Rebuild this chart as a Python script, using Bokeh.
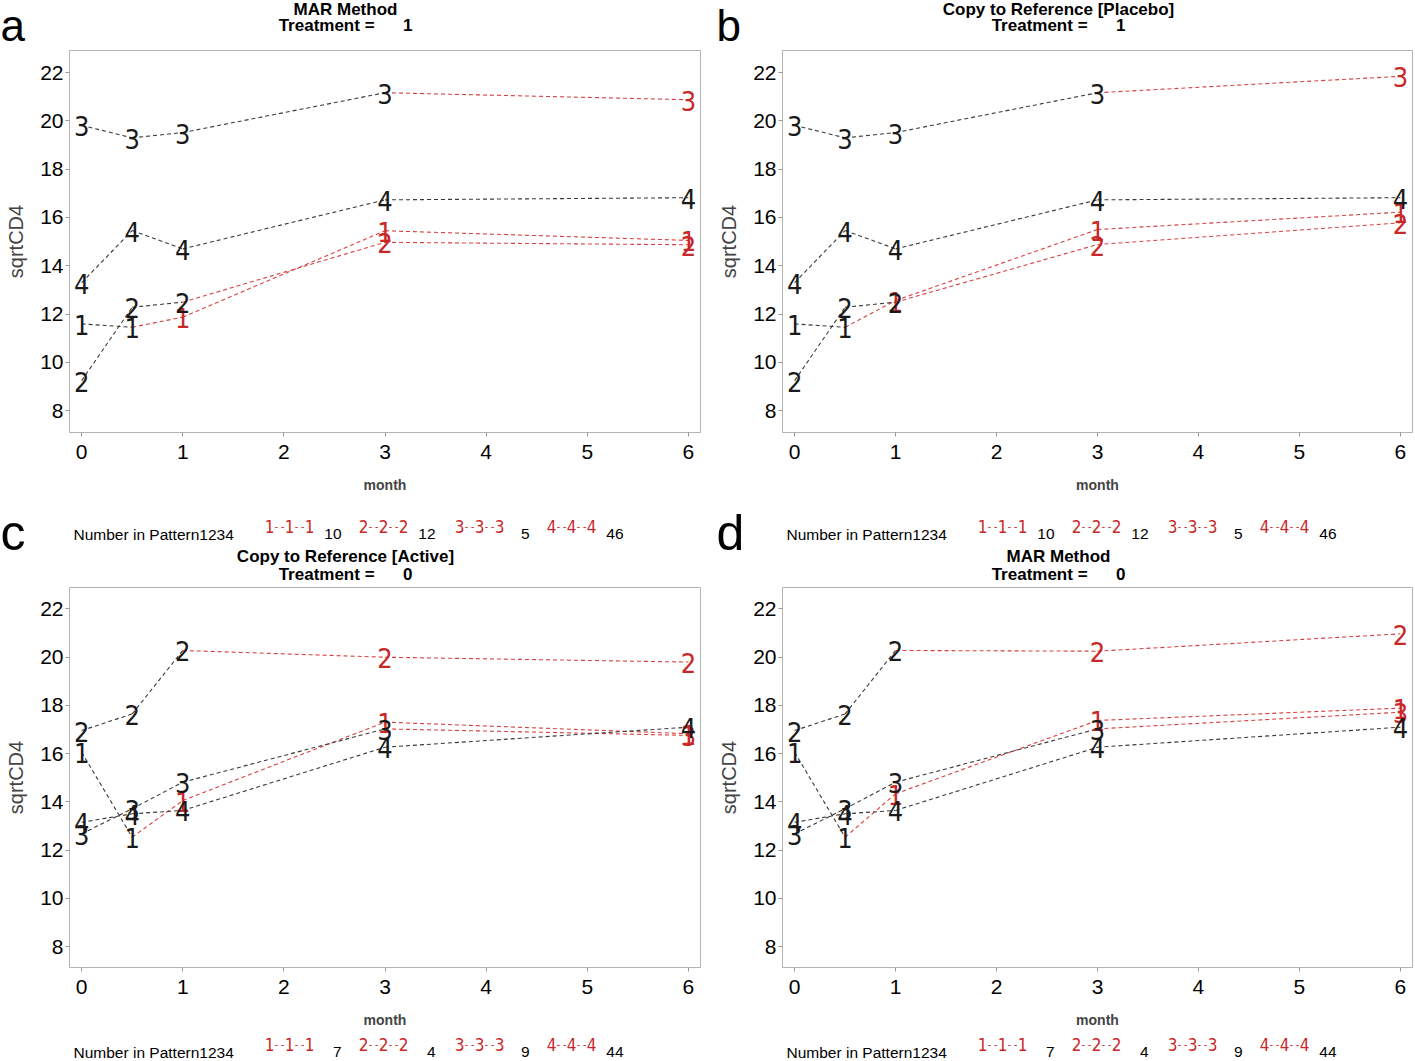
from bokeh.plotting import figure
from bokeh.layouts import row, column
from bokeh.models import Range1d, Label, FixedTicker
from bokeh.core.properties import value
from bokeh.embed import file_html
from bokeh.resources import INLINE

# ---------------- data ----------------
months = [0, 0.5, 1, 3, 6]
patterns = ["1", "2", "3", "4"]
n_observed = [2, 3, 4, 5]          # visits observed (black) per dropout pattern; rest imputed (red)
x_ticks = [0, 1, 2, 3, 4, 5, 6]
y_ticks = [8, 10, 12, 14, 16, 18, 20, 22]

# a: MAR Method, Treatment = 1
a_p1 = [11.59, 11.45, 11.87, 15.45, 15.05]
a_p2 = [9.24, 12.28, 12.49, 14.97, 14.87]
a_p3 = [19.82, 19.30, 19.52, 21.17, 20.88]
a_p4 = [13.30, 15.46, 14.70, 16.73, 16.82]
# b: Copy to Reference [Placebo], Treatment = 1
b_p1 = [11.59, 11.45, 12.56, 15.50, 16.22]
b_p2 = [9.24, 12.28, 12.49, 14.88, 15.78]
b_p3 = [19.82, 19.30, 19.52, 21.17, 21.85]
b_p4 = [13.30, 15.46, 14.70, 16.73, 16.82]
# c: Copy to Reference [Active], Treatment = 0
c_p1 = [16.06, 12.54, 14.06, 17.31, 16.83]
c_p2 = [16.96, 17.65, 20.28, 20.00, 19.80]
c_p3 = [12.68, 13.72, 14.82, 17.03, 16.76]
c_p4 = [13.16, 13.51, 13.65, 16.27, 17.10]
# d: MAR Method, Treatment = 0
d_p1 = [16.06, 12.54, 14.34, 17.38, 17.89]
d_p2 = [16.96, 17.65, 20.28, 20.25, 20.97]
d_p3 = [12.68, 13.72, 14.82, 17.03, 17.72]
d_p4 = [13.16, 13.51, 13.65, 16.27, 17.10]

counts_trt1 = [10, 12, 5, 46]
counts_trt0 = [7, 4, 9, 44]

# ---------------- style ----------------
OBS_LINE = "#3a3a3a"
IMP_LINE = "#d84040"
OBS_TXT = "#1a1a1a"
IMP_TXT = "#c82828"
GLYPH_FONT = "'Liberation Sans Narrow', 'DejaVu Sans Condensed', 'Roboto Condensed', 'Liberation Sans'"
FONT = "Liberation Sans"
FRAME = "#b4b4b4"

COL_W = [707, 706]          # column widths
COL_X = [0, 707]            # column left edge on the page
FRAME_L = [69, 75]          # frame left inside each column
FRAME_W = [631, 630]
ROW_FH = [382, 380]         # frame heights (top row, bottom row)
Y_RANGES = [(7.09, 22.92), (7.14, 22.89)]
TOTAL_W = sum(COL_W)
HEAD_H, MID_H, FOOT_H = 50, 89, 30
MAIN_TOP_B = [0, 2]
MAIN_BOT_B = 64


def aux_fig(h):
    p = figure(width=TOTAL_W, height=h, x_range=Range1d(0, TOTAL_W),
               y_range=Range1d(h, 0),
               min_border=0, min_border_left=0, min_border_right=0,
               min_border_top=0, min_border_bottom=0,
               x_axis_location=None, y_axis_location=None,
               output_backend="svg", toolbar_location=None, tools="")
    p.grid.visible = False
    p.outline_line_color = None
    p.background_fill_color = "white"
    p.border_fill_color = "white"
    return p


def lab(p, x, base, text, size, color="black", style="normal", align="left",
        font=FONT):
    """place text so that its alphabetic baseline sits at `base` (pixels from top)"""
    y = base - 0.35 * size
    p.add_layout(Label(x=x, y=y, text=text, text_font=font,
                       text_font_size=f"{size}px", text_color=color,
                       text_font_style=style, text_align=align,
                       text_baseline="middle"))


def add_titles(p, col, title, trt, b1, b2):
    cx = COL_X[col] + FRAME_L[col] + 276
    lab(p, cx, b1, title, 17, style="bold", align="center")
    lab(p, cx, b2, "Treatment =" + "\u00a0" * 6 + str(trt), 17,
        style="bold", align="center")


def add_letter(p, col, letter, base, size):
    lab(p, COL_X[col] + [0, 9][col], base, letter, size)


def add_legend(p, col, counts, base):
    fl = COL_X[col] + FRAME_L[col]
    lab(p, fl + 4, base, "Number in Pattern1234", 15.5)
    starts = [200, 294, 390, 482]
    cnt_right = [272, 366, 460, 554]
    for k in range(4):
        for j in range(3):
            lab(p, fl + starts[k] + 20 * j, base - 7, patterns[k], 17,
                color=IMP_TXT, align="center", font=GLYPH_FONT)
        for j in range(2):
            lab(p, fl + starts[k] + 10 + 20 * j, base - 10, "- -", 10,
                color=IMP_TXT, align="center")
        lab(p, fl + cnt_right[k], base, str(counts[k]), 15.5, align="right")


def main_fig(col, rw, series):
    p = figure(frame_width=FRAME_W[col], frame_height=ROW_FH[rw],
               min_border_left=FRAME_L[col],
               min_border_right=COL_W[col] - FRAME_L[col] - FRAME_W[col],
               min_border_top=MAIN_TOP_B[rw], min_border_bottom=MAIN_BOT_B,
               x_range=Range1d(-0.12, 6.12), y_range=Range1d(*Y_RANGES[rw]),
               output_backend="svg", toolbar_location=None, tools="")
    p.grid.visible = False
    p.outline_line_color = FRAME
    p.background_fill_color = "white"
    p.border_fill_color = "white"
    p.xaxis.ticker = FixedTicker(ticks=x_ticks)
    p.yaxis.ticker = FixedTicker(ticks=y_ticks)
    for ax in (p.xaxis[0], p.yaxis[0]):
        ax.major_label_text_font = FONT
        ax.major_label_text_font_size = "21px"
        ax.major_label_text_color = "black"
        ax.major_tick_out = 4
        ax.major_tick_in = 0
        ax.minor_tick_out = 0
        ax.minor_tick_in = 0
        ax.major_tick_line_color = "#9a9a9a"
        ax.axis_line_color = FRAME
    p.xaxis.major_label_standoff = 8
    p.yaxis.major_label_standoff = 2
    p.xaxis.axis_label = "month"
    p.xaxis.axis_label_text_font = FONT
    p.xaxis.axis_label_text_font_size = "14px"
    p.xaxis.axis_label_text_font_style = "bold"
    p.xaxis.axis_label_standoff = 15
    p.yaxis.axis_label = "sqrtCD4"
    p.yaxis.axis_label_text_font = FONT
    p.yaxis.axis_label_text_font_size = "20px"
    p.yaxis.axis_label_text_font_style = "normal"
    p.yaxis.axis_label_standoff = 10

    for k, vals in enumerate(series):
        nobs = n_observed[k]
        x0, y0, x1, y1, cols = [], [], [], [], []
        for i in range(len(months) - 1):
            x0.append(months[i]); y0.append(vals[i])
            x1.append(months[i + 1]); y1.append(vals[i + 1])
            cols.append(IMP_LINE if i + 1 >= nobs else OBS_LINE)
        p.segment(x0=x0, y0=y0, x1=x1, y1=y1, line_color=cols,
                  line_width=1.1, line_dash="4 3")
    for k, vals in enumerate(series):
        nobs = n_observed[k]
        tcols = [OBS_TXT if i < nobs else IMP_TXT for i in range(len(months))]
        p.text(x=months, y=vals, text=[patterns[k]] * len(months),
               text_color=tcols, text_font=value(GLYPH_FONT),
               text_font_size="27px", text_align="center",
               text_baseline="middle", y_offset=1)
    return p


panels = {
    "a": ("MAR Method", 1, [a_p1, a_p2, a_p3, a_p4], counts_trt1),
    "b": ("Copy to Reference [Placebo]", 1, [b_p1, b_p2, b_p3, b_p4], counts_trt1),
    "c": ("Copy to Reference [Active]", 0, [c_p1, c_p2, c_p3, c_p4], counts_trt0),
    "d": ("MAR Method", 0, [d_p1, d_p2, d_p3, d_p4], counts_trt0),
}

head = aux_fig(HEAD_H)
mid = aux_fig(MID_H)
foot = aux_fig(FOOT_H)
tops, bots = [], []
for col, (top_key, bot_key) in enumerate([("a", "c"), ("b", "d")]):
    t_title, t_trt, t_series, t_counts = panels[top_key]
    b_title, b_trt, b_series, b_counts = panels[bot_key]

    add_titles(head, col, t_title, t_trt, 15, 31)
    add_letter(head, col, top_key, 40.5, 44)
    tops.append(main_fig(col, 0, t_series))

    add_legend(mid, col, t_counts, 43)
    add_letter(mid, col, bot_key, 54, 50)
    add_titles(mid, col, b_title, b_trt, 66, 84)
    bots.append(main_fig(col, 1, b_series))

    add_legend(foot, col, b_counts, 26)

layout = column(head, row(tops[0], tops[1], spacing=0), mid,
                row(bots[0], bots[1], spacing=0), foot, spacing=0)
open("out.html", "w").write(file_html(layout, INLINE))
